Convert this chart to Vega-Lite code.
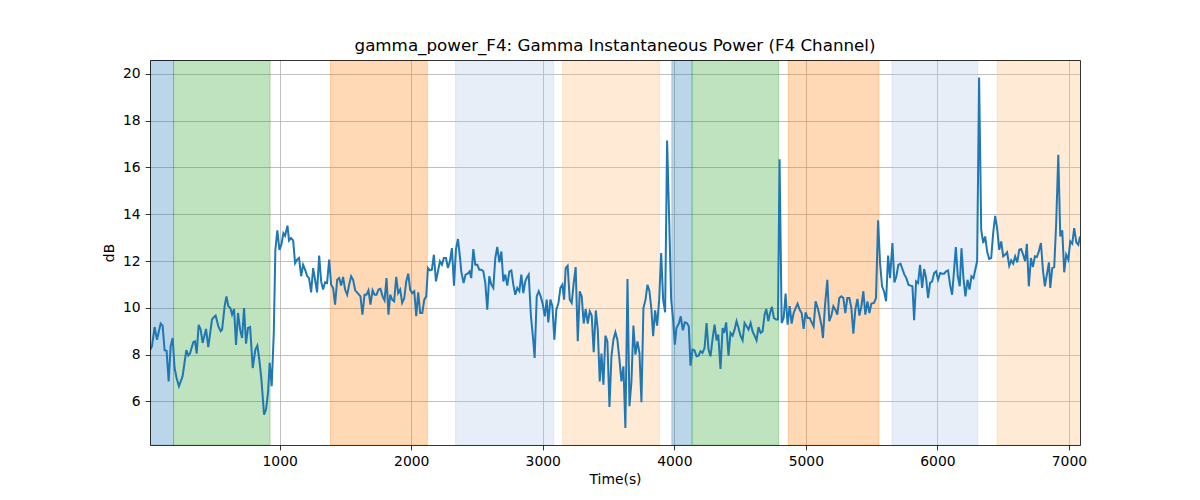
{
  "$schema": "https://vega.github.io/schema/vega-lite/v6.json",
  "width": 930,
  "height": 385,
  "autosize": "none",
  "padding": {"left": 150, "top": 60, "right": 120, "bottom": 55},
  "title": {"text": "gamma_power_F4: Gamma Instantaneous Power (F4 Channel)", "font": "DejaVu Sans", "fontSize": 16.7, "fontWeight": "normal", "color": "black", "offset": 5},
  "config": {
    "view": {"stroke": null},
    "axis": {"labelFont": "DejaVu Sans", "labelFontSize": 13.9, "labelColor": "black", "tickColor": "black", "tickWidth": 0.8, "tickSize": 4.9, "labelPadding": 4.9, "domainColor": "black", "domainWidth": 0.8, "gridColor": "#b0b0b0", "gridWidth": 0.8, "gridOpacity": 1, "titleFont": "DejaVu Sans", "titleFontSize": 13.9, "titleFontWeight": "normal", "titleColor": "black"}
  },
  "datasets": {
    "bands": [
      {"start": 0, "end": 193, "kind": "blue"},
      {"start": 193, "end": 927, "kind": "green"},
      {"start": 1386, "end": 2122, "kind": "orange"},
      {"start": 2337, "end": 3083, "kind": "lightblue"},
      {"start": 3151, "end": 3887, "kind": "lightorange"},
      {"start": 3981, "end": 4135, "kind": "blue"},
      {"start": 4135, "end": 4793, "kind": "green"},
      {"start": 4866, "end": 5556, "kind": "orange"},
      {"start": 5655, "end": 6307, "kind": "lightblue"},
      {"start": 6454, "end": 7100, "kind": "lightorange"}
    ],
    "series": [
      {"t":14,"v":8.2},{"t":29,"v":8.36},{"t":49,"v":9.18},{"t":67,"v":8.64},{"t":95,"v":9.33},{"t":110,"v":9.24},{"t":125,"v":8.19},{"t":140,"v":8.17},{"t":156,"v":6.86},{"t":171,"v":8.36},{"t":186,"v":8.71},{"t":201,"v":7.43},{"t":216,"v":7.0},{"t":234,"v":6.65},{"t":262,"v":7.08},{"t":290,"v":8.19},{"t":305,"v":7.96},{"t":318,"v":8.05},{"t":343,"v":8.53},{"t":356,"v":8.57},{"t":369,"v":8.05},{"t":384,"v":9.27},{"t":399,"v":9.07},{"t":414,"v":8.5},{"t":427,"v":8.8},{"t":440,"v":9.1},{"t":457,"v":8.32},{"t":471,"v":8.9},{"t":485,"v":9.5},{"t":499,"v":9.6},{"t":513,"v":9.67},{"t":534,"v":9.21},{"t":551,"v":9.0},{"t":562,"v":9.07},{"t":582,"v":10.09},{"t":595,"v":10.49},{"t":610,"v":10.07},{"t":625,"v":9.99},{"t":638,"v":9.71},{"t":653,"v":9.95},{"t":668,"v":8.42},{"t":683,"v":9.78},{"t":699,"v":9.07},{"t":714,"v":8.71},{"t":729,"v":9.99},{"t":744,"v":8.47},{"t":759,"v":9.14},{"t":775,"v":9.18},{"t":795,"v":7.43},
      {"t":815,"v":8.22},{"t":830,"v":8.39},{"t":845,"v":7.79},{"t":861,"v":6.94},{"t":881,"v":5.44},{"t":896,"v":5.66},{"t":911,"v":6.37},{"t":924,"v":7.65},{"t":939,"v":6.65},{"t":955,"v":8.93},{"t":967,"v":12.48},{"t":982,"v":13.31},{"t":998,"v":12.48},{"t":1013,"v":12.7},{"t":1028,"v":13.19},{"t":1041,"v":13.08},{"t":1059,"v":13.51},{"t":1071,"v":12.88},{"t":1086,"v":12.98},{"t":1102,"v":12.88},{"t":1117,"v":11.91},{"t":1132,"v":12.06},{"t":1147,"v":12.13},{"t":1163,"v":11.35},{"t":1178,"v":11.84},{"t":1193,"v":11.63},{"t":1208,"v":11.37},{"t":1223,"v":11.27},{"t":1239,"v":10.66},{"t":1254,"v":11.7},{"t":1269,"v":11.2},{"t":1284,"v":10.66},{"t":1300,"v":12.23},{"t":1315,"v":11.13},{"t":1330,"v":10.78},{"t":1345,"v":11.09},{"t":1360,"v":11.06},{"t":1376,"v":12.06},{"t":1391,"v":10.99},{"t":1406,"v":10.85},{"t":1421,"v":10.14},{"t":1437,"v":11.2},{"t":1452,"v":11.27},{"t":1467,"v":10.95},{"t":1482,"v":11.32},{"t":1497,"v":10.78},{"t":1513,"v":10.56},{"t":1528,"v":10.99},{"t":1543,"v":11.35},{"t":1558,"v":11.2},{"t":1574,"v":10.75},
      {"t":1596,"v":10.61},{"t":1614,"v":10.49},{"t":1629,"v":9.71},{"t":1645,"v":10.56},{"t":1660,"v":10.56},{"t":1675,"v":10.75},{"t":1690,"v":10.14},{"t":1706,"v":10.75},{"t":1721,"v":10.56},{"t":1736,"v":10.56},{"t":1751,"v":10.78},{"t":1766,"v":10.81},{"t":1782,"v":10.49},{"t":1797,"v":10.32},{"t":1812,"v":11.27},{"t":1827,"v":9.71},{"t":1840,"v":10.56},{"t":1855,"v":10.35},{"t":1870,"v":10.28},{"t":1886,"v":11.32},{"t":1901,"v":10.63},{"t":1916,"v":10.78},{"t":1931,"v":10.21},{"t":1947,"v":10.42},{"t":1962,"v":11.13},{"t":1977,"v":11.46},{"t":1992,"v":10.78},{"t":2007,"v":10.63},{"t":2023,"v":10.71},{"t":2038,"v":9.64},{"t":2053,"v":10.66},{"t":2068,"v":9.78},{"t":2084,"v":9.78},{"t":2099,"v":10.35},{"t":2114,"v":10.49},{"t":2127,"v":11.7},{"t":2142,"v":11.6},{"t":2157,"v":11.63},{"t":2172,"v":12.27},{"t":2188,"v":11.13},{"t":2203,"v":11.56},{"t":2218,"v":11.99},{"t":2233,"v":11.84},{"t":2248,"v":12.13},{"t":2264,"v":12.13},{"t":2279,"v":11.7},{"t":2294,"v":11.99},{"t":2309,"v":12.55},{"t":2325,"v":10.95},{"t":2340,"v":12.51},{"t":2355,"v":12.94},{"t":2370,"v":12.2},{"t":2380,"v":11.56},
      {"t":2398,"v":11.06},{"t":2413,"v":11.42},{"t":2429,"v":11.46},{"t":2444,"v":11.56},{"t":2456,"v":11.27},{"t":2472,"v":12.51},{"t":2487,"v":11.84},{"t":2502,"v":11.84},{"t":2517,"v":11.63},{"t":2533,"v":11.63},{"t":2548,"v":11.56},{"t":2563,"v":11.06},{"t":2578,"v":9.92},{"t":2593,"v":11.35},{"t":2609,"v":10.99},{"t":2624,"v":10.85},{"t":2639,"v":12.13},{"t":2654,"v":12.6},{"t":2670,"v":11.94},{"t":2685,"v":12.41},{"t":2700,"v":11.13},{"t":2715,"v":11.42},{"t":2730,"v":10.95},{"t":2746,"v":11.56},{"t":2761,"v":11.6},{"t":2776,"v":10.99},{"t":2791,"v":10.56},{"t":2806,"v":10.85},{"t":2822,"v":10.71},{"t":2837,"v":11.42},{"t":2852,"v":10.63},{"t":2867,"v":11.13},{"t":2880,"v":11.3},{"t":2893,"v":11.42},{"t":2910,"v":9.64},{"t":2926,"v":8.71},{"t":2938,"v":7.86},{"t":2954,"v":10.49},{"t":2969,"v":10.71},{"t":2984,"v":10.49},{"t":2999,"v":10.18},{"t":3015,"v":9.64},{"t":3030,"v":10.35},{"t":3042,"v":9.38},{"t":3058,"v":10.35},{"t":3073,"v":10.07},{"t":3088,"v":8.64},{"t":3103,"v":9.92},{"t":3119,"v":10.21},{"t":3134,"v":10.85},{"t":3149,"v":10.99},{"t":3162,"v":10.35},
      {"t":3174,"v":11.7},{"t":3189,"v":11.8},{"t":3205,"v":10.35},{"t":3220,"v":10.21},{"t":3235,"v":11.06},{"t":3250,"v":11.74},{"t":3266,"v":8.57},{"t":3281,"v":10.71},{"t":3296,"v":10.49},{"t":3311,"v":9.33},{"t":3326,"v":9.95},{"t":3342,"v":9.33},{"t":3357,"v":9.85},{"t":3372,"v":9.67},{"t":3387,"v":8.1},{"t":3403,"v":9.89},{"t":3418,"v":9.07},{"t":3433,"v":6.86},{"t":3446,"v":8.05},{"t":3461,"v":6.72},{"t":3476,"v":8.81},{"t":3491,"v":8.57},{"t":3507,"v":5.77},{"t":3522,"v":7.93},{"t":3537,"v":8.64},{"t":3552,"v":8.96},{"t":3567,"v":8.64},{"t":3583,"v":7.79},{"t":3598,"v":6.86},{"t":3613,"v":7.5},{"t":3628,"v":4.87},{"t":3644,"v":11.23},{"t":3659,"v":5.8},{"t":3674,"v":6.86},{"t":3689,"v":9.24},{"t":3704,"v":8.0},{"t":3720,"v":8.57},{"t":3735,"v":8.07},{"t":3750,"v":5.97},{"t":3765,"v":9.99},{"t":3781,"v":10.35},{"t":3796,"v":10.99},{"t":3811,"v":10.71},{"t":3826,"v":9.92},{"t":3839,"v":8.79},{"t":3854,"v":9.89},{"t":3869,"v":9.24},{"t":3885,"v":10.35},{"t":3900,"v":12.34},{"t":3915,"v":10.35},{"t":3930,"v":9.81},{"t":3945,"v":17.15},{"t":3961,"v":13.76},{"t":3976,"v":10.35},{"t":3991,"v":9.5},
      {"t":4004,"v":8.43},{"t":4016,"v":9.14},{"t":4034,"v":9.33},{"t":4049,"v":9.64},{"t":4065,"v":9.04},{"t":4080,"v":9.38},{"t":4095,"v":9.35},{"t":4110,"v":9.21},{"t":4123,"v":7.53},{"t":4138,"v":8.22},{"t":4153,"v":8.19},{"t":4169,"v":7.93},{"t":4184,"v":7.96},{"t":4199,"v":8.15},{"t":4214,"v":8.07},{"t":4230,"v":8.29},{"t":4245,"v":9.35},{"t":4260,"v":8.22},{"t":4275,"v":7.93},{"t":4290,"v":8.64},{"t":4306,"v":9.28},{"t":4321,"v":8.61},{"t":4334,"v":8.86},{"t":4351,"v":7.39},{"t":4367,"v":9.14},{"t":4379,"v":8.93},{"t":4394,"v":9.38},{"t":4412,"v":7.96},{"t":4427,"v":8.93},{"t":4443,"v":8.81},{"t":4458,"v":9.07},{"t":4473,"v":9.43},{"t":4488,"v":9.14},{"t":4503,"v":8.81},{"t":4519,"v":8.61},{"t":4534,"v":9.35},{"t":4549,"v":9.21},{"t":4564,"v":9.07},{"t":4580,"v":9.35},{"t":4595,"v":8.99},{"t":4610,"v":8.81},{"t":4625,"v":8.61},{"t":4640,"v":9.18},{"t":4656,"v":8.93},{"t":4671,"v":8.99},{"t":4686,"v":9.71},{"t":4699,"v":9.95},{"t":4714,"v":9.43},{"t":4727,"v":9.78},{"t":4742,"v":10.04},{"t":4757,"v":9.57},{"t":4773,"v":9.5},{"t":4788,"v":9.5},{"t":4800,"v":16.35},{"t":4816,"v":9.35},{"t":4831,"v":9.57},{"t":4846,"v":10.61},{"t":4861,"v":9.28},{"t":4877,"v":10.07},{"t":4892,"v":9.33},{"t":4907,"v":9.78},{"t":4922,"v":9.99},{"t":4937,"v":10.18},{"t":4953,"v":9.92},{"t":4968,"v":9.78},{"t":4983,"v":9.1},{"t":4998,"v":9.81},
      {"t":5013,"v":9.57},{"t":5029,"v":9.57},{"t":5044,"v":9.38},{"t":5059,"v":9.21},{"t":5074,"v":10.28},{"t":5090,"v":9.99},{"t":5105,"v":9.64},{"t":5120,"v":9.21},{"t":5130,"v":8.71},{"t":5145,"v":10.07},{"t":5163,"v":11.2},{"t":5178,"v":9.43},{"t":5194,"v":9.67},{"t":5209,"v":10.07},{"t":5224,"v":9.92},{"t":5239,"v":9.71},{"t":5254,"v":10.42},{"t":5270,"v":10.49},{"t":5285,"v":10.42},{"t":5300,"v":9.78},{"t":5315,"v":10.42},{"t":5331,"v":10.42},{"t":5346,"v":9.99},{"t":5361,"v":8.9},{"t":5376,"v":9.92},{"t":5392,"v":10.38},{"t":5407,"v":9.67},{"t":5422,"v":10.07},{"t":5437,"v":10.71},{"t":5452,"v":9.71},{"t":5468,"v":10.28},{"t":5483,"v":9.78},{"t":5498,"v":10.18},{"t":5518,"v":10.21},{"t":5533,"v":10.42},{"t":5549,"v":13.74},{"t":5564,"v":11.91},{"t":5579,"v":10.92},{"t":5594,"v":10.71},{"t":5610,"v":10.28},{"t":5625,"v":12.23},{"t":5640,"v":11.27},{"t":5658,"v":12.77},{"t":5673,"v":11.09},{"t":5688,"v":11.35},{"t":5703,"v":11.84},{"t":5719,"v":11.89},{"t":5734,"v":11.66},{"t":5749,"v":11.42},{"t":5764,"v":11.27},{"t":5780,"v":10.99},{"t":5795,"v":10.95},{"t":5810,"v":10.92},{"t":5823,"v":9.47},{"t":5838,"v":11.13},{"t":5853,"v":11.06},{"t":5868,"v":11.84},{"t":5884,"v":10.85},{"t":5899,"v":11.66},{"t":5914,"v":11.27},{"t":5929,"v":10.42},{"t":5944,"v":11.06},{"t":5960,"v":11.13},{"t":5975,"v":11.49},{"t":5990,"v":11.56},
      {"t":6005,"v":11.2},{"t":6021,"v":11.49},{"t":6036,"v":11.46},{"t":6051,"v":11.46},{"t":6066,"v":11.56},{"t":6081,"v":11.6},{"t":6097,"v":10.95},{"t":6112,"v":10.56},{"t":6127,"v":11.63},{"t":6140,"v":12.6},{"t":6155,"v":11.35},{"t":6170,"v":10.92},{"t":6183,"v":12.55},{"t":6198,"v":11.27},{"t":6213,"v":10.49},{"t":6229,"v":11.2},{"t":6244,"v":10.78},{"t":6259,"v":11.35},{"t":6274,"v":11.27},{"t":6289,"v":11.66},{"t":6302,"v":12.0},{"t":6317,"v":19.84},{"t":6333,"v":13.34},{"t":6348,"v":12.77},{"t":6363,"v":13.05},{"t":6378,"v":12.41},{"t":6393,"v":12.09},{"t":6409,"v":12.13},{"t":6424,"v":13.19},{"t":6439,"v":13.93},{"t":6454,"v":13.41},{"t":6470,"v":12.48},{"t":6485,"v":12.84},{"t":6500,"v":12.2},{"t":6515,"v":12.27},{"t":6530,"v":12.37},{"t":6546,"v":11.8},{"t":6561,"v":12.03},{"t":6576,"v":11.89},{"t":6591,"v":12.2},{"t":6607,"v":11.94},{"t":6622,"v":12.48},{"t":6637,"v":12.51},{"t":6652,"v":12.27},{"t":6667,"v":11.99},{"t":6680,"v":12.74},{"t":6695,"v":10.92},{"t":6711,"v":12.13},{"t":6726,"v":11.74},{"t":6741,"v":12.2},{"t":6756,"v":12.17},{"t":6771,"v":12.41},{"t":6787,"v":12.77},{"t":6802,"v":11.63},{"t":6817,"v":10.92},{"t":6832,"v":11.42},{"t":6848,"v":11.94},{"t":6858,"v":10.85},{"t":6873,"v":11.7},{"t":6888,"v":11.74},{"t":6903,"v":13.62},{"t":6919,"v":16.54},{"t":6934,"v":13.05},{"t":6949,"v":13.31},{"t":6964,"v":11.52},{"t":6979,"v":12.27},{"t":6995,"v":12.06},{"t":7010,"v":12.84},{"t":7025,"v":12.74},{"t":7040,"v":13.41},{"t":7056,"v":12.8},{"t":7071,"v":12.7},{"t":7084,"v":13.05}
    ]
  },
  "layer": [
    {
      "data": {"name": "bands"},
      "mark": {"type": "rect", "clip": true, "fillOpacity": 0.3, "strokeOpacity": 0.3, "strokeWidth": 1},
      "encoding": {
        "x": {"field": "start", "type": "quantitative", "scale": {"domain": [14, 7084], "nice": false, "zero": false}, "axis": {"orient": "bottom", "grid": true, "domain": false, "ticks": false, "labels": false, "title": null, "values": [1000, 2000, 3000, 4000, 5000, 6000, 7000], "zindex": 0}},
        "x2": {"field": "end"},
        "color": {"field": "kind", "type": "nominal", "scale": {"domain": ["blue", "green", "orange", "lightblue", "lightorange"], "range": ["#1f77b4", "#2ca02c", "#ff7f0e", "#aec7e8", "#ffbb78"]}, "legend": null},
        "stroke": {"field": "kind", "type": "nominal", "scale": {"domain": ["blue", "green", "orange", "lightblue", "lightorange"], "range": ["#1f77b4", "#2ca02c", "#ff7f0e", "#aec7e8", "#ffbb78"]}, "legend": null}
      }
    },
    {
      "data": {"name": "series"},
      "mark": {"type": "line", "color": "#1f77b4", "strokeWidth": 2, "clip": true},
      "encoding": {
        "x": {"field": "t", "type": "quantitative", "scale": {"domain": [14, 7084], "nice": false, "zero": false}, "axis": {"orient": "bottom", "grid": false, "domain": true, "ticks": true, "labels": true, "title": "Time(s)", "titlePadding": 4, "values": [1000, 2000, 3000, 4000, 5000, 6000, 7000], "format": "d", "zindex": 1}},
        "y": {"field": "v", "type": "quantitative", "scale": {"domain": [4.14, 20.59], "nice": false, "zero": false}, "axis": {"orient": "left", "grid": true, "domain": false, "ticks": true, "labels": true, "title": "dB", "titlePadding": 6, "values": [6, 8, 10, 12, 14, 16, 18, 20], "zindex": 0}}
      }
    },
    {
      "data": {"name": "series"},
      "mark": {"type": "line", "opacity": 0},
      "encoding": {
        "x": {"field": "t", "type": "quantitative", "scale": {"domain": [14, 7084], "nice": false, "zero": false}, "axis": {"orient": "top", "grid": false, "domain": true, "ticks": false, "labels": false, "title": null, "zindex": 1}},
        "y": {"field": "v", "type": "quantitative", "scale": {"domain": [4.14, 20.59], "nice": false, "zero": false}, "axis": {"orient": "right", "grid": false, "domain": true, "ticks": false, "labels": false, "title": null, "zindex": 1}}
      }
    },
    {
      "data": {"name": "series"},
      "mark": {"type": "line", "opacity": 0},
      "encoding": {
        "x": {"field": "t", "type": "quantitative", "scale": {"domain": [14, 7084], "nice": false, "zero": false}, "axis": null},
        "y": {"field": "v", "type": "quantitative", "scale": {"domain": [4.14, 20.59], "nice": false, "zero": false}, "axis": {"orient": "left", "grid": false, "domain": true, "ticks": false, "labels": false, "title": null, "zindex": 1}}
      }
    }
  ],
  "resolve": {"axis": {"x": "independent", "y": "independent"}}
}
